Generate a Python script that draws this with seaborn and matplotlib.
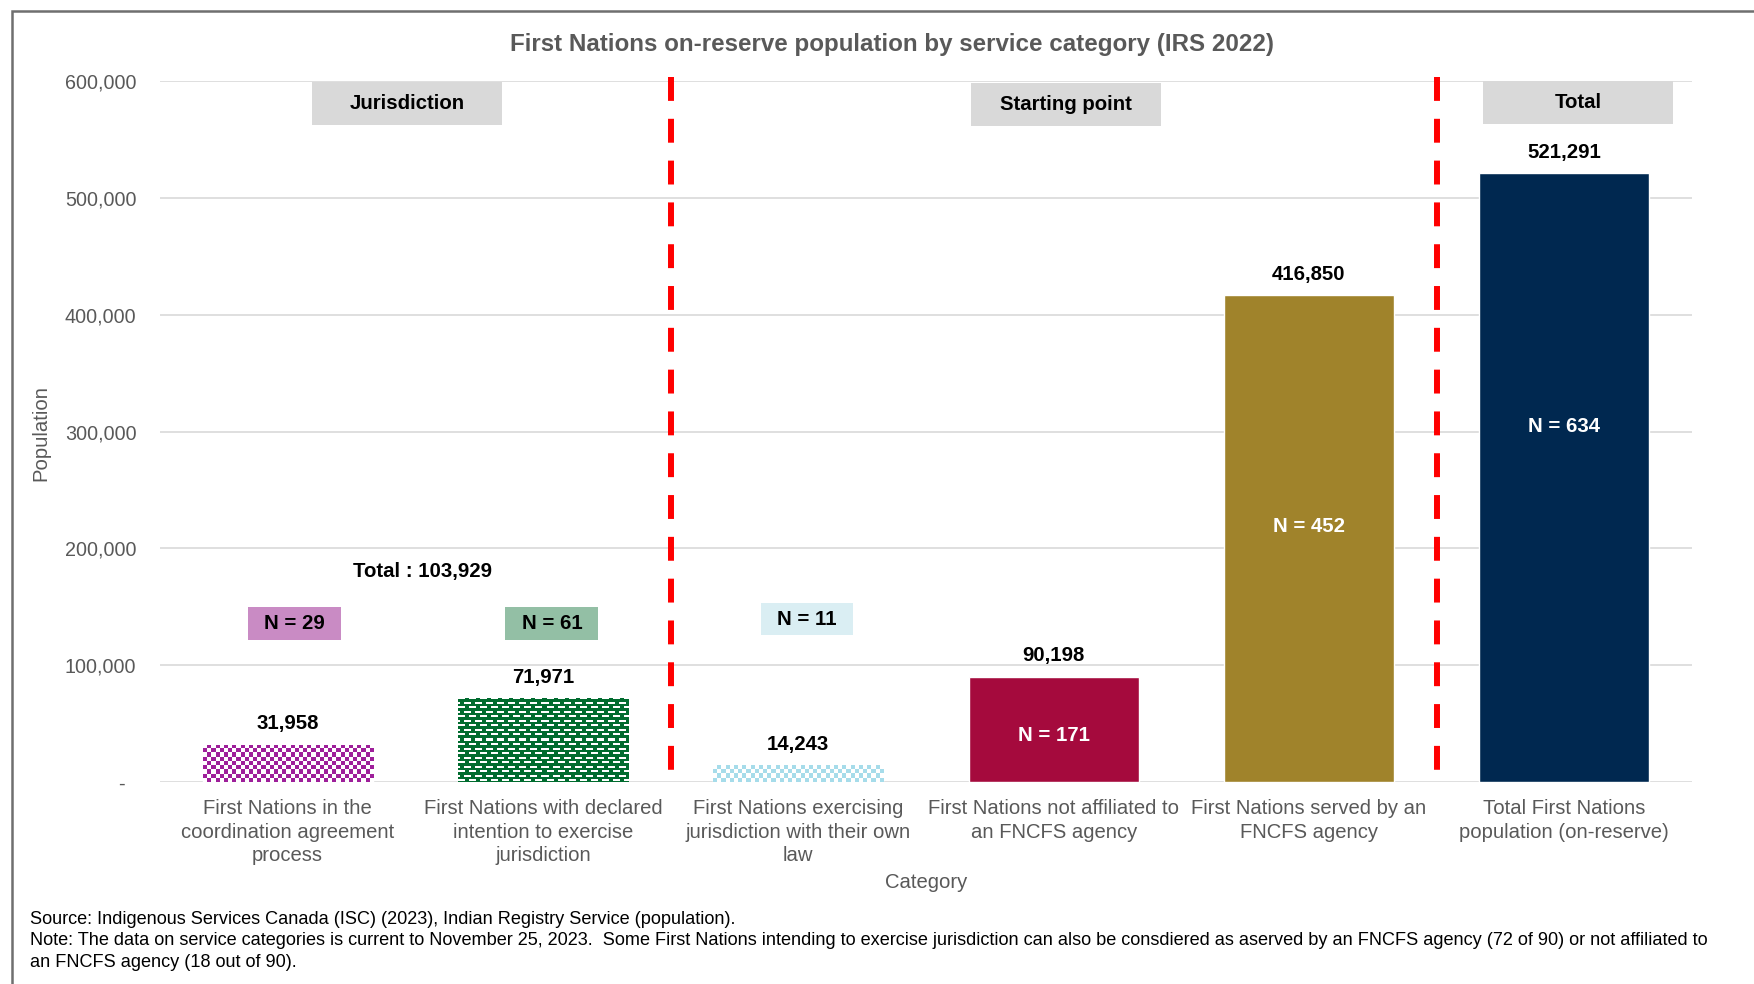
import numpy as np
import pandas as pd
import seaborn as sns
import matplotlib.pyplot as plt
from matplotlib.colors import to_rgb
from matplotlib.patches import Rectangle
from matplotlib.ticker import FuncFormatter

# values
categories = ["coordination", "declared", "own law", "not affiliated", "served", "total"]
tick_labels = [
    "First Nations in the\ncoordination agreement\nprocess",
    "First Nations with declared\nintention to exercise\njurisdiction",
    "First Nations exercising\njurisdiction with their own\nlaw",
    "First Nations not affiliated to\nan FNCFS agency",
    "First Nations served by an\nFNCFS agency",
    "Total First Nations\npopulation (on-reserve)",
]
population = [31958, 71971, 14243, 90198, 416850, 521291]
bar_colors = ["#9E1F9A", "#006B2E", "#A6DCEA", "#A50A3D", "#A0832B", "#002850"]

# N labels drawn inside the solid bars (x index, y position, text)
inner_n = [(3, 40000, "N = 171"), (4, 219000, "N = 452"), (5, 304000, "N = 634")]
# small N boxes above the patterned bars
box_n = [(0.028, 121700, 149500, "N = 29", "#C98BC4"),
         (1.035, 121700, 149500, "N = 61", "#93BFA5"),
         (2.034, 125600, 153400, "N = 11", "#DAEEF3")]
# section headers
headers = [(0.468, 562600, 599000, "Jurisdiction"),
           (3.047, 561700, 598000, "Starting point"),
           (5.053, 563600, 600000, "Total")]
dividers = [1.5, 4.5]

sns.set_style("white")
plt.rcParams["font.family"] = ["Liberation Sans", "DejaVu Sans"]

fig = plt.figure(figsize=(17.54, 9.84), dpi=100)
ax = fig.add_axes([160 / 1754, 1 - 782 / 984, 1532 / 1754, 701 / 984])

df = pd.DataFrame({"Category": categories, "Population": population})
sns.barplot(data=df, x="Category", y="Population", hue="Category",
            palette=bar_colors, legend=False, width=0.667, saturation=1, ax=ax)

ax.set_xlim(-0.5, 5.5)
ax.set_ylim(0, 600000)


def checker(w_px, h_px, sq, color):
    nc = max(1, int(round(w_px / sq)))
    nr = max(1, int(round(h_px / sq)))
    board = np.add.outer(np.arange(nr), np.arange(nc)) % 2
    return np.where(board[..., None] == 1, np.array(to_rgb(color)), np.ones(3))


def bricks(w_px, h_px, color):
    h, w = int(round(h_px)), int(round(w_px))
    ii, jj = np.meshgrid(np.arange(h), np.arange(w), indexing="ij")
    row = np.floor(ii / 4.5)
    on_row = (ii - row * 4.5) < 2
    off = np.where(row % 2 == 0, 0, 5.5)
    dash = ((jj + off) % 11) < 7
    img = np.empty((h, w, 3))
    img[:] = to_rgb(color)
    img[on_row & dash] = 1.0
    return img


bars = sorted(ax.patches, key=lambda p: p.get_x())
for i, bar in enumerate(bars[:3]):
    x0, w, h = bar.get_x(), bar.get_width(), bar.get_height()
    p0 = ax.transData.transform((x0, 0))
    p1 = ax.transData.transform((x0 + w, h))
    w_px, h_px = p1[0] - p0[0], p1[1] - p0[1]
    if i == 1:
        img = bricks(w_px, h_px, bar_colors[i])
    else:
        img = checker(w_px, h_px, 4.2, bar_colors[i])
    im = ax.imshow(img, extent=(x0, x0 + w, 0, h), aspect="auto",
                   interpolation="nearest", zorder=2)
    im.set_clip_path(bar)

ax.set_xlim(-0.5, 5.5)
ax.set_ylim(0, 600000)

BOLD = 14.7

# value labels on top
for bar, v in zip(bars, population):
    ax.text(bar.get_x() + bar.get_width() / 2, v + 17800, f"{v:,}",
            ha="center", va="center", fontsize=BOLD, fontweight="bold", color="black")

for xi, yv, txt in inner_n:
    ax.text(xi, yv, txt, ha="center", va="center", fontsize=BOLD,
            fontweight="bold", color="white", zorder=4)

for cx, y0, y1, txt, col in box_n:
    ax.add_patch(Rectangle((cx - 0.182, y0), 0.364, y1 - y0, facecolor=col,
                           edgecolor="none", zorder=3))
    ax.text(cx, (y0 + y1) / 2, txt, ha="center", va="center", fontsize=BOLD,
            fontweight="bold", color="black", zorder=4)

for cx, y0, y1, txt in headers:
    ax.add_patch(Rectangle((cx - 0.3725, y0), 0.745, y1 - y0, facecolor="#D9D9D9",
                           edgecolor="none", zorder=3, clip_on=False))
    ax.text(cx, (y0 + y1) / 2, txt, ha="center", va="center", fontsize=BOLD,
            fontweight="bold", color="black", zorder=4)

ax.text(0.53, 180200, "Total : 103,929", ha="center", va="center",
        fontsize=BOLD, fontweight="bold", color="black")

for xd in dividers:
    ax.plot([xd, xd], [603000, 0], color="#FF0000", linewidth=4.3,
            linestyle=(0, (4.0, 3.0)), solid_capstyle="butt",
            dash_capstyle="butt", clip_on=False, zorder=5)

# axes styling
ax.set_yticks(np.arange(0, 600001, 100000))
ax.yaxis.set_major_formatter(FuncFormatter(lambda v, _: "-  " if v == 0 else f"{v:,.0f}"))
ax.set_xticks(range(len(categories)))
ax.set_xticklabels(tick_labels, linespacing=1.28)
ax.tick_params(axis="y", length=0, pad=17, labelsize=14.2, labelcolor="#595959")
ax.tick_params(axis="x", length=0, pad=12.5, labelsize=14.6, labelcolor="#595959")
ax.yaxis.grid(True, color="#D9D9D9", linewidth=1.2)
ax.set_axisbelow(True)
for s in ax.spines.values():
    s.set_visible(False)
ax.set_xlabel("")
ax.set_ylabel("")

fig.text(41 / 1754, 1 - 433 / 984, "Population", rotation=90, ha="center",
         va="center", fontsize=14.6, color="#595959")
fig.text(926 / 1754, 1 - 883 / 984, "Category", ha="center", va="center",
         fontsize=14.6, color="#595959")
fig.text(892 / 1754, 1 - 44 / 984,
         "First Nations on-reserve population by service category (IRS 2022)",
         ha="center", va="center", fontsize=17.4, fontweight="bold", color="#595959")

footer = ("Source: Indigenous Services Canada (ISC) (2023), Indian Registry Service (population).\n"
          "Note: The data on service categories is current to November 25, 2023.  Some First Nations "
          "intending to exercise jurisdiction can also be consdiered as aserved by an FNCFS agency "
          "(72 of 90) or not affiliated to\nan FNCFS agency (18 out of 90).")
fig.text(30 / 1754, 1 - 911 / 984, footer, ha="left", va="top", fontsize=13.1,
         color="black", linespacing=1.33)

# outer frame (left and top edges visible)
fig.add_artist(Rectangle((12 / 1754, -0.05), 1.2, 1 - 11 / 984 + 0.05,
                         transform=fig.transFigure, facecolor="none",
                         edgecolor="#6F6F6F", linewidth=1.8))

fig.savefig("out.png", dpi=100)
